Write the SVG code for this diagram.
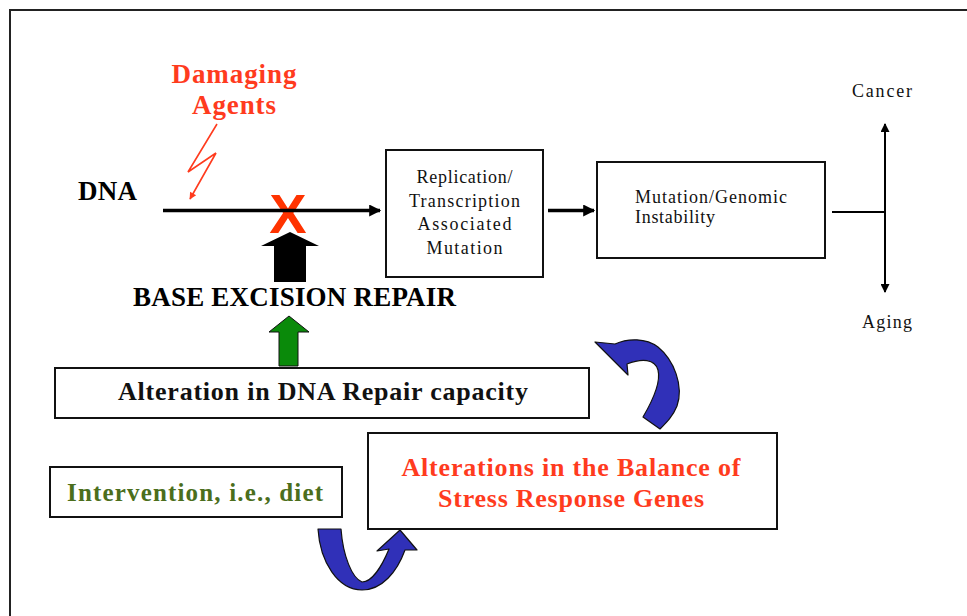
<svg xmlns="http://www.w3.org/2000/svg" width="967" height="616" viewBox="0 0 967 616">
<defs>
<style>
.b{font-family:"Liberation Serif","DejaVu Serif",serif;font-weight:bold}
.r{font-family:"Liberation Serif","DejaVu Serif",serif;font-size:18px;fill:#111}
.box{fill:#fff;stroke:#111;stroke-width:2}
.red{fill:#ff3b1e}
.ln{stroke:#000;fill:none}
.blue{fill:#3030b8;stroke:#111;stroke-width:1.2;stroke-linejoin:round}
</style>
<marker id="ah" viewBox="0 0 10 10" refX="9" refY="5" markerUnits="userSpaceOnUse" markerWidth="14" markerHeight="12" orient="auto"><path d="M0,0 L10,5 L0,10 Z" fill="#000"/></marker>
<marker id="ahs" viewBox="0 0 10 10" refX="9" refY="5" markerUnits="userSpaceOnUse" markerWidth="11" markerHeight="9" orient="auto"><path d="M0,0 L10,5 L0,10 Z" fill="#000"/></marker>
<marker id="ahr" viewBox="0 0 10 10" refX="9" refY="5" markerUnits="userSpaceOnUse" markerWidth="9" markerHeight="7" orient="auto"><path d="M0,0 L10,5 L0,10 Z" fill="#ff3b1e"/></marker>
</defs>
<rect width="967" height="616" fill="#fff"/>
<rect x="10" y="10" width="980" height="630" fill="none" stroke="#222" stroke-width="2"/>

<g id="damaging-agents">
<text class="b red" x="234" y="83" font-size="27" text-anchor="middle" textLength="125">Damaging</text>
<text class="b red" x="234" y="114" font-size="27" text-anchor="middle" textLength="84">Agents</text>
</g>

<g id="dna">
<text class="b" x="78" y="200" font-size="27" textLength="59">DNA</text>
</g>

<g id="x-mark">
<text x="288" y="233" font-family="Liberation Sans, Arial, sans-serif" font-weight="bold" font-size="56" fill="#ff3300" text-anchor="middle">X</text>
</g>

<g id="replication">
<rect class="box" x="386" y="150" width="157" height="127"/>
<text class="r" x="464.5" y="183" text-anchor="middle" textLength="96">Replication/</text>
<text class="r" x="464.5" y="207" text-anchor="middle" textLength="111">Transcription</text>
<text class="r" x="464.5" y="230" text-anchor="middle" textLength="94">Associated</text>
<text class="r" x="464.5" y="254" text-anchor="middle" textLength="76">Mutation</text>
</g>

<g id="mutation">
<rect class="box" x="597" y="162" width="228" height="96"/>
<text class="r" x="635" y="203" textLength="152">Mutation/Genomic</text>
<text class="r" x="635" y="223" textLength="80">Instability</text>
</g>

<g id="cancer"><text class="r" x="882" y="97" text-anchor="middle" textLength="60">Cancer</text></g>
<g id="aging"><text class="r" x="887" y="328" text-anchor="middle" textLength="50">Aging</text></g>

<g id="ber">
<text class="b" x="133" y="306" font-size="27" textLength="323">BASE EXCISION REPAIR</text>
</g>

<g id="repair-capacity">
<rect class="box" x="55" y="368" width="534" height="50"/>
<text class="b" x="118" y="400" font-size="26" fill="#111" textLength="410">Alteration in DNA Repair capacity</text>
</g>

<g id="stress-genes">
<rect class="box" x="368" y="433" width="409" height="96"/>
<text class="b red" x="571" y="476" font-size="26" text-anchor="middle" textLength="339">Alterations in the Balance of</text>
<text class="b red" x="571" y="507" font-size="26" text-anchor="middle" textLength="266">Stress Response Genes</text>
</g>

<g id="intervention">
<rect class="box" x="50" y="467" width="292" height="50"/>
<text class="b" x="67" y="501" font-size="25" fill="#4b6e1c" textLength="256">Intervention, i.e., diet</text>
</g>

<g id="connectors">
<polyline points="217,124 188,172 216,153 190,199" fill="none" stroke="#ff3b1e" stroke-width="1.6" marker-end="url(#ahr)"/>
<line class="ln" x1="163" y1="210.5" x2="380" y2="210.5" stroke-width="3.5" marker-end="url(#ah)"/>
<line class="ln" x1="548" y1="210.5" x2="594" y2="210.5" stroke-width="3.5" marker-end="url(#ah)"/>
<line class="ln" x1="832" y1="212" x2="885" y2="212" stroke-width="2"/>
<line class="ln" x1="885" y1="212" x2="885" y2="124" stroke-width="2" marker-end="url(#ahs)"/>
<line class="ln" x1="885" y1="212" x2="885" y2="292" stroke-width="2" marker-end="url(#ahs)"/>
<polygon points="274,282 274,246 261,246 290,232 319,246 306,246 306,282" fill="#000"/>
<polygon points="279,366 279,332 269,332 289,316 309,332 298,332 298,366" fill="#0a8a0a" stroke="#111" stroke-width="1"/>
<path class="blue" d="M643,417 C653,400 661,382 658,370 C655,359 642,358 627,364 L628,375 L595,342 L615,344 C628,338 646,338 658,347 C674,360 684,386 677,406 C673,416 667,422 660,429 Z"/>
<path class="blue" d="M318,529 L341,529 C343,556 352,578 362,582 C372,582 382,566 389,549 L377,551 L400,530 L417,550 L405,550 C397,572 382,590 362,590 C338,590 320,562 318,529 Z"/>
</g>
</svg>
